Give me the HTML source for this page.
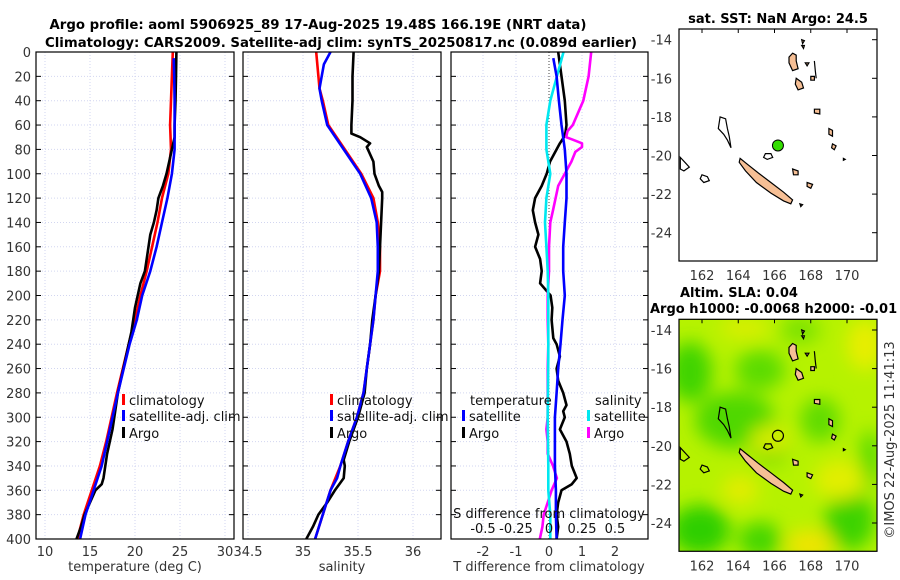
<!DOCTYPE html>
<html><head><meta charset="utf-8"><style>
html,body{margin:0;padding:0;background:#fff;}
svg{display:block;font-family:"DejaVu Sans","Liberation Sans",sans-serif;}
.tk{font-size:13px;fill:#333;}
.lg{font-size:13px;fill:#111;}
.tt{font-size:13px;font-weight:bold;fill:#000;}
</style></head><body>
<svg id="fig" width="900" height="580" viewBox="0 0 900 580" xmlns="http://www.w3.org/2000/svg">
<defs>
<clipPath id="cp1"><rect x="36" y="52" width="198" height="487"/></clipPath>
<clipPath id="cp2"><rect x="243" y="52" width="198" height="487"/></clipPath>
<clipPath id="cp3"><rect x="451" y="52" width="197" height="487"/></clipPath>
<clipPath id="cpm1"><rect x="679" y="29" width="198" height="232"/></clipPath>
<clipPath id="cpm2"><rect x="679" y="319" width="198" height="232"/></clipPath>
<filter id="blur" x="-50%" y="-50%" width="200%" height="200%"><feGaussianBlur stdDeviation="9"/></filter>
</defs>
<text class="tt" x="318" y="29" text-anchor="middle" textLength="537" lengthAdjust="spacingAndGlyphs">Argo profile: aoml 5906925_89 17-Aug-2025 19.48S 166.19E (NRT data)</text>
<text class="tt" x="341" y="47" text-anchor="middle" textLength="592" lengthAdjust="spacingAndGlyphs">Climatology: CARS2009. Satellite-adj clim: synTS_20250817.nc (0.089d earlier)</text>
<g id="panels"></g>
<g id="maps"></g>
<text class="tk" transform="translate(894,440) rotate(-90)" text-anchor="middle">©IMOS 22-Aug-2025 11:41:13</text>
</svg>
<script>
// ---- data ----
const depthTick = [0,20,40,60,80,100,120,140,160,180,200,220,240,260,280,300,320,340,360,380,400];
const tTicks = [10,15,20,25,30];
const sTicks = [34.5,35,35.5,36];
const dTTicks = [-2,-1,0,1,2];
const dSTicks = [-0.5,-0.25,0,0.25,0.5];
const dSTickLabels = ["-0.5","-0.25","0","0.25","0.5"];

const tClimDepth = [0,20,40,60,80,100,120,140,160,180,200,220,240,280,300,320,340,360,380,400];
const tClim = [24.2,24.1,24.0,23.9,24.0,23.7,23.0,22.5,21.9,21.3,20.6,20.0,19.3,18.0,17.4,16.8,16.1,15.2,14.3,13.6];
const tSatDepth = [5,20,40,60,80,100,120,140,160,180,200,220,240,280,300,320,340,360,380,400];
const tSat = [24.3,24.35,24.4,24.4,24.4,24.1,23.6,23.0,22.4,21.7,20.8,20.2,19.4,18.1,17.5,16.9,16.3,15.4,14.5,13.9];
const tArgoDepth = [0,20,40,60,70,80,90,100,110,120,130,140,150,160,170,180,190,200,210,220,230,240,260,280,290,300,310,320,330,340,350,355,360,370,380,390,400];
const tArgo = [24.6,24.55,24.5,24.4,24.4,24.1,23.8,23.5,23.1,22.6,22.4,22.1,21.7,21.5,21.3,21.1,20.6,20.3,20.0,19.8,19.6,19.3,18.7,18.1,17.9,17.7,17.5,17.2,16.9,16.7,16.5,16.3,15.6,15.0,14.4,14.0,13.5];

const sClimDepth = [0,20,30,40,60,80,100,120,140,160,180,200,220,240,260,280,300,320,340,360,380,400];
const sClim = [35.12,35.14,35.15,35.18,35.23,35.38,35.53,35.64,35.68,35.70,35.70,35.66,35.64,35.61,35.58,35.55,35.49,35.41,35.34,35.25,35.18,35.11];
const sSatDepth = [0,5,10,20,30,40,60,80,100,120,140,160,180,200,220,240,260,280,300,320,340,350,360,380,400];
const sSat = [35.25,35.22,35.19,35.17,35.15,35.17,35.22,35.37,35.52,35.62,35.67,35.68,35.68,35.66,35.64,35.61,35.58,35.55,35.49,35.41,35.34,35.31,35.25,35.18,35.11];
const sArgoDepth = [0,20,40,60,67,70,75,78,80,90,100,110,115,120,140,160,180,200,220,240,260,280,300,320,335,340,350,355,360,370,380,390,400];
const sArgo = [35.46,35.45,35.45,35.44,35.44,35.52,35.61,35.58,35.59,35.64,35.65,35.69,35.72,35.72,35.71,35.70,35.69,35.66,35.63,35.61,35.58,35.56,35.50,35.42,35.37,35.38,35.37,35.33,35.29,35.22,35.14,35.09,35.03];

const dTSatDepth = [5,20,40,60,80,100,120,140,160,180,200,220,240,260,280,300,320,340,360,380,400];
const dTSat = [0.13,0.23,0.3,0.38,0.48,0.53,0.53,0.48,0.43,0.43,0.48,0.41,0.35,0.28,0.23,0.18,0.18,0.18,0.21,0.21,0.23];
const dTArgoDepth = [0,20,40,60,66,70,75,80,90,100,110,120,130,140,150,160,170,180,190,200,210,220,235,240,250,260,270,280,290,295,300,310,320,330,340,350,355,360,370,380,390,400];
const dTArgo = [0.28,0.38,0.48,0.53,0.5,0.45,0.33,0.23,0.03,-0.07,-0.22,-0.42,-0.49,-0.42,-0.32,-0.42,-0.27,-0.22,-0.27,0.05,0.1,0.08,0.13,0.23,0.33,0.23,0.28,0.43,0.53,0.43,0.48,0.33,0.53,0.63,0.69,0.84,0.69,0.38,0.28,0.23,0.28,0.23];
const dSSatDepth = [0,20,40,60,80,100,120,140,160,180,200,250,300,340,360,380,400];
const dSSat = [0.11,0.06,0.01,-0.02,-0.02,0.01,-0.02,-0.03,-0.02,-0.01,-0.005,-0.005,-0.01,-0.005,-0.005,0.01,0.01];
const dSArgoDepth = [0,20,40,60,65,70,72,75,78,82,90,100,110,120,130,140,160,180,200,220,240,260,280,300,310,320,330,340,350,360,370,380,390,400];
const dSArgo = [0.32,0.30,0.26,0.18,0.14,0.13,0.18,0.25,0.25,0.20,0.17,0.12,0.07,0.05,0.03,0.01,0.0,0.0,-0.01,-0.01,-0.005,-0.01,-0.01,-0.01,-0.02,-0.01,-0.01,0.03,0.06,0.02,-0.01,-0.04,-0.05,-0.07];

const latTicks = [-14,-16,-18,-20,-22,-24];
const lonTicks = [162,164,166,168,170];
const argoLon = 166.19, argoLat = -19.48;

// ---- scales ----
const yD = d => 52 + d*487/400;
const xT = t => 45 + (t-10)*9;
const xS = s => 248 + (s-34.5)*110;
const xdT = v => 549 + v*33;
const xdS = v => 549 + v*132;
const NS = "http://www.w3.org/2000/svg";
function mk(tag, attrs, parent){const e=document.createElementNS(NS,tag);for(const k in attrs)e.setAttribute(k,attrs[k]);parent.appendChild(e);return e;}
const P = document.getElementById('panels');
const GRID = '#d2d6f0';

function panel(x0, w, xs, ticks, labels, clip, name){
  const g = mk('g',{},P);
  
  
  ticks.forEach(t=>{ mk('line',{x1:xs(t),x2:xs(t),y1:52,y2:539,stroke:GRID,'stroke-width':1,'stroke-dasharray':'1,2'},g); });
  depthTick.forEach(d=>{ mk('line',{x1:x0,x2:x0+w,y1:yD(d),y2:yD(d),stroke:GRID,'stroke-width':1,'stroke-dasharray':'1,2'},g);
    mk('line',{x1:x0,x2:x0+5,y1:yD(d),y2:yD(d),stroke:'#000'},g);
    mk('line',{x1:x0+w-5,x2:x0+w,y1:yD(d),y2:yD(d),stroke:'#000'},g);});
  ticks.forEach((t,i)=>{
    const tl = mk('text',{x:xs(t),y:556,'text-anchor':'middle',class:'tk'},g);
    tl.textContent = labels ? labels[i] : String(t);
    
    
  });
  return g;
}
function line(g, xs, vals, deps, color, clip, name, width){
  const pts = vals.map((v,i)=>xs(v).toFixed(1)+','+yD(deps[i]).toFixed(1)).join(' ');
  const pl = mk('polyline',{points:pts,fill:'none',stroke:color,'stroke-width':width||2.6,'stroke-linejoin':'round','clip-path':'url(#'+clip+')'},g);
  
  
}
function frame(g,x0,w){ mk('rect',{x:x0,y:52,width:w,height:487,fill:'none',stroke:'#000','stroke-width':1.2},g); }
function leg(g,x,y,color,text,name){
  mk('rect',{x:x,y:y-11,width:3,height:11,fill:color},g);
  const t = mk('text',{x:x+7,y:y,class:'lg'},g); t.textContent=text;
  
  
}
function txt(g,x,y,s,cls,anchor,name){const t=mk('text',{x:x,y:y,class:cls,'text-anchor':anchor||'start'},g);t.textContent=s;
  
  
  return t;}

// panel 1 temperature
const g1 = panel(36,198,xT,tTicks,null,'cp1','temperature-panel');
depthTick.forEach(d=>{ const t=mk('text',{x:31,y:yD(d)+5,'text-anchor':'end',class:'tk'},g1); t.textContent=d;
  
   });
line(g1,xT,tClim,tClimDepth,'#ff0000','cp1','temperature-climatology-line');
line(g1,xT,tArgo,tArgoDepth,'#000','cp1','temperature-argo-line');
line(g1,xT,tSat,tSatDepth,'#0000ff','cp1','temperature-satellite-line');
frame(g1,36,198);
leg(g1,122,405,'#ff0000','climatology','legend-climatology');
leg(g1,122,421,'#0000ff','satellite-adj. clim','legend-satellite-adj');
leg(g1,122,438,'#000','Argo','legend-argo');
txt(g1,135,571,'temperature (deg C)','tk','middle','temperature-axis-title');

// panel 2 salinity
const g2 = panel(243,198,xS,sTicks,null,'cp2','salinity-panel');
line(g2,xS,sClim,sClimDepth,'#ff0000','cp2','salinity-climatology-line');
line(g2,xS,sArgo,sArgoDepth,'#000','cp2','salinity-argo-line');
line(g2,xS,sSat,sSatDepth,'#0000ff','cp2','salinity-satellite-line');
frame(g2,243,198);
leg(g2,330,405,'#ff0000','climatology','legend-climatology-s');
leg(g2,330,421,'#0000ff','satellite-adj. clim','legend-satellite-adj-s');
leg(g2,330,438,'#000','Argo','legend-argo-s');
txt(g2,342,571,'salinity','tk','middle','salinity-axis-title');

// panel 3 differences
const g3 = panel(451,197,xdT,dTTicks,null,'cp3','difference-panel');
mk('line',{x1:xdT(0),x2:xdT(0),y1:52,y2:539,stroke:'#444','stroke-width':1,'stroke-dasharray':'1,2'},g3);
line(g3,xdT,dTArgo,dTArgoDepth,'#000','cp3','t-diff-argo-line');
line(g3,xdS,dSArgo,dSArgoDepth,'#ff00ff','cp3','s-diff-argo-line');
line(g3,xdS,dSSat,dSSatDepth,'#00e8f0','cp3','s-diff-satellite-line');
line(g3,xdT,dTSat,dTSatDepth,'#0000ff','cp3','t-diff-satellite-line');
frame(g3,451,197);
txt(g3,470,405,'temperature','lg','start','legend-temperature-heading');
leg(g3,462,421,'#0000ff','satellite','legend-t-satellite');
leg(g3,462,438,'#000','Argo','legend-t-argo');
txt(g3,595,405,'salinity','lg','start','legend-salinity-heading');
leg(g3,587,421,'#00e8f0','satellite','legend-s-satellite');
leg(g3,587,438,'#ff00ff','Argo','legend-s-argo');
txt(g3,549,518,'S difference from climatology','lg','middle','s-diff-axis-title');
dSTicks.forEach((v,i)=>{ const t=txt(g3,xdS(v),533,dSTickLabels[i],'lg','middle','s-diff-tick-label'); });
txt(g3,549,571,'T difference from climatology','tk','middle','t-diff-axis-title');

// ---- maps ----
const M = document.getElementById('maps');
const lonX = l => 702 + (l-162)*18.125;
const latY1 = la => 39.7 + (-14-la)*19.3;
const latY2 = la => 330 + (-14-la)*19.3;
const islands = [
 [[164.1,-20.15],[164.5,-20.45],[165.1,-20.9],[165.8,-21.4],[166.5,-21.9],[167.0,-22.3],[166.9,-22.5],[166.5,-22.35],[165.8,-21.95],[165.0,-21.4],[164.4,-20.8],[164.05,-20.35]],
 [[167.0,-14.7],[167.2,-14.8],[167.2,-15.1],[167.3,-15.5],[167.0,-15.6],[166.8,-15.2],[166.8,-14.9]],
 [[167.2,-16.0],[167.5,-16.2],[167.6,-16.5],[167.3,-16.6],[167.15,-16.3]],
 [[168.2,-17.6],[168.5,-17.6],[168.5,-17.85],[168.2,-17.8]],
 [[168.0,-15.9],[168.2,-15.9],[168.2,-16.1],[168.0,-16.1]],
 [[167.7,-15.2],[167.9,-15.2],[167.8,-15.35]],
 [[169.0,-18.6],[169.2,-18.7],[169.2,-19.0],[169.0,-18.9]],
 [[169.2,-19.4],[169.4,-19.5],[169.3,-19.7],[169.15,-19.6]],
 [[167.0,-20.7],[167.3,-20.8],[167.3,-21.0],[167.05,-21.0]],
 [[167.8,-21.4],[168.1,-21.5],[168.0,-21.7],[167.8,-21.6]],
 [[169.8,-20.15],[169.9,-20.2],[169.8,-20.25]],
 [[167.4,-22.5],[167.55,-22.55],[167.45,-22.65]],
 [[167.5,-14.0],[167.65,-14.05],[167.55,-14.2]],
 [[167.5,-14.3],[167.65,-14.3],[167.6,-14.45]]
];
const outlines = [
 [[163.6,-19.6],[163.5,-19.0],[163.4,-18.6],[163.3,-18.1],[163.0,-18.0],[162.9,-18.6],[163.2,-18.9],[163.4,-19.2]],
 [[165.5,-19.9],[165.8,-19.9],[165.9,-20.1],[165.6,-20.2],[165.4,-20.1]],
 [[160.8,-20.1],[161.1,-20.4],[161.3,-20.6],[161.0,-20.8],[160.8,-20.7]],
 [[162.0,-21.0],[162.3,-21.1],[162.4,-21.3],[162.1,-21.4],[161.9,-21.2]]
];
function drawMap(latY, clip, name, bg){
  const g = mk('g',{},M);
  
  
  const y0 = latY(-14)-10.7;
  if(bg){
    const bgG = mk('g',{'clip-path':'url(#'+clip+')'},g);
    mk('rect',{x:679,y:y0,width:198,height:232,fill:'#b6f200'},bgG);
    const blobs = mk('g',{filter:'url(#blur)'},bgG);
    [[690,372,22,30,'#3fd400'],[735,420,40,28,'#4fd800'],[760,370,25,20,'#5cdc00'],[700,530,30,25,'#2fcf00'],[760,540,22,18,'#44d600'],[850,520,25,30,'#3cd300'],[820,420,20,22,'#60dc00'],[800,330,20,14,'#7ae200'],[870,460,10,30,'#55da00'],[770,450,18,14,'#48d600']].forEach(b=>{
      mk('ellipse',{cx:b[0],cy:b[1],rx:b[2],ry:b[3],fill:b[4]},blobs);});
    [[865,345,18,25,'#e8ee00'],[745,328,25,10,'#dcee00'],[770,440,20,15,'#d4ec00'],[840,480,25,20,'#e2ee00'],[810,545,25,15,'#f0e400'],[740,490,18,14,'#e4ec00']].forEach(b=>{
      mk('ellipse',{cx:b[0],cy:b[1],rx:b[2],ry:b[3],fill:b[4]},blobs);});
  }
  const cg = mk('g',{'clip-path':'url(#'+clip+')'},g);
  islands.forEach(p=>{ mk('polygon',{points:p.map(q=>lonX(q[0]).toFixed(1)+','+latY(q[1]).toFixed(1)).join(' '),fill:'#f6bf95',stroke:'#000','stroke-width':1.2},cg); });
  outlines.forEach(p=>{ mk('polygon',{points:p.map(q=>lonX(q[0]).toFixed(1)+','+latY(q[1]).toFixed(1)).join(' '),fill:'none',stroke:'#000','stroke-width':1.2},cg); });
  mk('polyline',{points:[[168.2,-15.1],[168.25,-15.6],[168.3,-16.0]].map(q=>lonX(q[0])+','+latY(q[1])).join(' '),fill:'none',stroke:'#000','stroke-width':1.2},cg);
  mk('rect',{x:679,y:y0,width:198,height:232,fill:'none',stroke:'#000','stroke-width':1.2},g);
  latTicks.forEach(la=>{ mk('line',{x1:877,x2:872,y1:latY(la),y2:latY(la),stroke:'#000'},g);
    const t=mk('text',{x:672,y:latY(la)+5,'text-anchor':'end',class:'tk'},g); t.textContent=la;
    
    });
  lonTicks.forEach(lo=>{ mk('line',{x1:lonX(lo),x2:lonX(lo),y1:y0,y2:y0+4,stroke:'#000'},g);
    const t=mk('text',{x:lonX(lo),y:y0+251,'text-anchor':'middle',class:'tk'},g); t.textContent=lo;
    
    });
  return g;
}
const m1 = drawMap(latY1,'cpm1','sst-map',false);
const dot = mk('circle',{cx:lonX(argoLon),cy:latY1(argoLat),r:5.5,fill:'#33dd00',stroke:'#000','stroke-width':1},m1);


txt(m1,778,23,'sat. SST: NaN Argo: 24.5','tt','middle','sst-map-title');
const m2 = drawMap(latY2,'cpm2','sla-map',true);
const ring = mk('circle',{cx:lonX(argoLon),cy:latY2(argoLat),r:5.5,fill:'none',stroke:'#000','stroke-width':1.2},m2);


txt(m2,680,297,'Altim. SLA: 0.04','tt','start','sla-map-title');
txt(m2,650,313,'Argo h1000: -0.0068 h2000: -0.01','tt','start','sla-map-subtitle');
</script>
</body></html>
